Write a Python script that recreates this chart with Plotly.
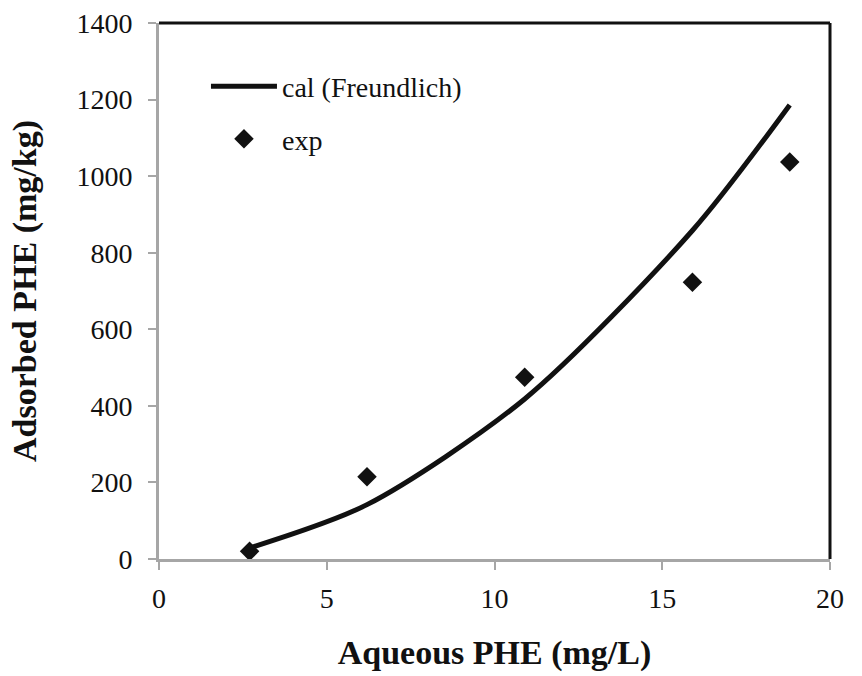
import plotly.graph_objects as go

# Data
aqueous_exp = [2.7, 6.2, 10.9, 15.9, 18.8]
adsorbed_exp = [20, 215, 475, 723, 1037]
aqueous_cal = [2.7, 6.2, 10.9, 15.9, 18.8]
adsorbed_cal = [29, 142, 418, 858, 1186]

x_ticks = [0, 5, 10, 15, 20]
y_ticks = [0, 200, 400, 600, 800, 1000, 1200, 1400]

FONT = "Liberation Serif"
GRAY = "#a6a6a6"

fig = go.Figure()
fig.add_trace(go.Scatter(
    x=aqueous_cal, y=adsorbed_cal, mode="lines", name="cal (Freundlich)",
    legendgroup="cal",
    line=dict(color="#111111", width=5, shape="spline", smoothing=0.8),
))
fig.add_trace(go.Scatter(
    x=aqueous_exp, y=adsorbed_exp, mode="markers", name="exp",
    legendgroup="exp",
    marker=dict(symbol="diamond", size=15, color="#111111"),
))

fig.update_layout(
    width=862, height=676,
    margin=dict(l=159, r=32, t=23, b=117),
    paper_bgcolor="white", plot_bgcolor="white",
    font=dict(family=FONT, size=28, color="#111111"),
    showlegend=True,
    legend=dict(x=0.07, y=0.928, xanchor="left", yanchor="top",
                bgcolor="rgba(0,0,0,0)", font=dict(family=FONT, size=28),
                itemwidth=66, tracegroupgap=13),
    xaxis=dict(range=[0, 20], tickvals=x_ticks, showgrid=False, zeroline=False,
               showline=True, linecolor=GRAY, linewidth=3, automargin=False,
               ticks="outside", ticklen=8, tickwidth=2, tickcolor=GRAY,
               tickfont=dict(family=FONT, size=28), ticklabelstandoff=4,
               title=dict(text="<b>Aqueous PHE (mg/L)</b>", font=dict(family=FONT, size=34), standoff=28)),
    yaxis=dict(range=[0, 1400], tickvals=y_ticks, showgrid=False, zeroline=False,
               showline=True, linecolor=GRAY, linewidth=3, automargin=False,
               ticks="outside", ticklen=8, tickwidth=2, tickcolor=GRAY,
               tickfont=dict(family=FONT, size=28), ticklabelstandoff=10,
               title=dict(text="<b>Adsorbed PHE (mg/kg)</b>", font=dict(family=FONT, size=34), standoff=30)),
    shapes=[
        dict(type="line", xref="paper", yref="paper", x0=0, x1=1, y0=1, y1=1,
             line=dict(color="#111111", width=3)),
        dict(type="line", xref="paper", yref="paper", x0=1, x1=1, y0=0, y1=1,
             line=dict(color="#111111", width=3)),
    ],
)

fig.write_html("out.html")
